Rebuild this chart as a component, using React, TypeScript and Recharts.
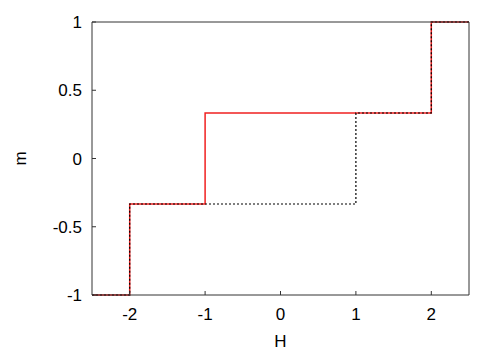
import { LineChart, Line, XAxis, YAxis } from "recharts";

// field H where each branch jumps, and the magnetisation after the jump
const upH = [-2.5, -2, -1, 2, 2.5];
const upM = [-1, -1 / 3, 1 / 3, 1, 1];
const downH = [-2.5, -2, 1, 2, 2.5];
const downM = [-1, -1 / 3, 1 / 3, 1, 1];

const xTicks = [-2, -1, 0, 1, 2];
const yTicks = [-1, -0.5, 0, 0.5, 1];

const upData = upH.map((h, i) => ({ h, m: upM[i] }));
const downData = downH.map((h, i) => ({ h, m: downM[i] }));

const font = "'Liberation Sans', Arial, sans-serif";
const tickStyle = { fontSize: 17, fill: "#000", fontFamily: font };
const labelStyle = { fontSize: 17, fill: "#000", fontFamily: font };

export default function App() {
  return (
    <div style={{ position: "absolute", left: 0, top: 0, background: "#fff" }}>
      <LineChart width={500} height={350} margin={{ top: 21, right: 30, bottom: 0, left: 0 }}>
        <XAxis
          xAxisId="b"
          dataKey="h"
          type="number"
          domain={[-2.5, 2.5]}
          ticks={xTicks}
          allowDataOverflow
          height={55}
          stroke="#333"
          tickSize={-4}
          tickMargin={17}
          tick={tickStyle}
          label={{ value: "H", position: "insideBottom", offset: 3, style: labelStyle }}
        />
        <XAxis
          xAxisId="t"
          dataKey="h"
          type="number"
          orientation="top"
          domain={[-2.5, 2.5]}
          ticks={xTicks}
          height={1}
          stroke="#333"
          tickSize={-4}
          tick={false}
        />
        <YAxis
          yAxisId="l"
          type="number"
          domain={[-1, 1]}
          ticks={yTicks}
          width={92}
          stroke="#333"
          tickSize={-4}
          tickMargin={14}
          tick={tickStyle}
          label={{ value: "m", angle: -90, position: "insideLeft", offset: 20, style: { ...labelStyle, textAnchor: "middle" } }}
        />
        <YAxis
          yAxisId="r"
          type="number"
          orientation="right"
          domain={[-1, 1]}
          ticks={yTicks}
          width={1}
          stroke="#333"
          tickSize={-4}
          tick={false}
        />
        <Line
          xAxisId="b"
          yAxisId="l"
          data={upData}
          dataKey="m"
          type="stepAfter"
          stroke="#f02020"
          strokeWidth={1.5}
          dot={false}
          isAnimationActive={false}
        />
        <Line
          xAxisId="b"
          yAxisId="l"
          data={downData}
          dataKey="m"
          type="stepAfter"
          stroke="#000"
          strokeWidth={1.2}
          strokeDasharray="2 2"
          dot={false}
          isAnimationActive={false}
        />
      </LineChart>
    </div>
  );
}
